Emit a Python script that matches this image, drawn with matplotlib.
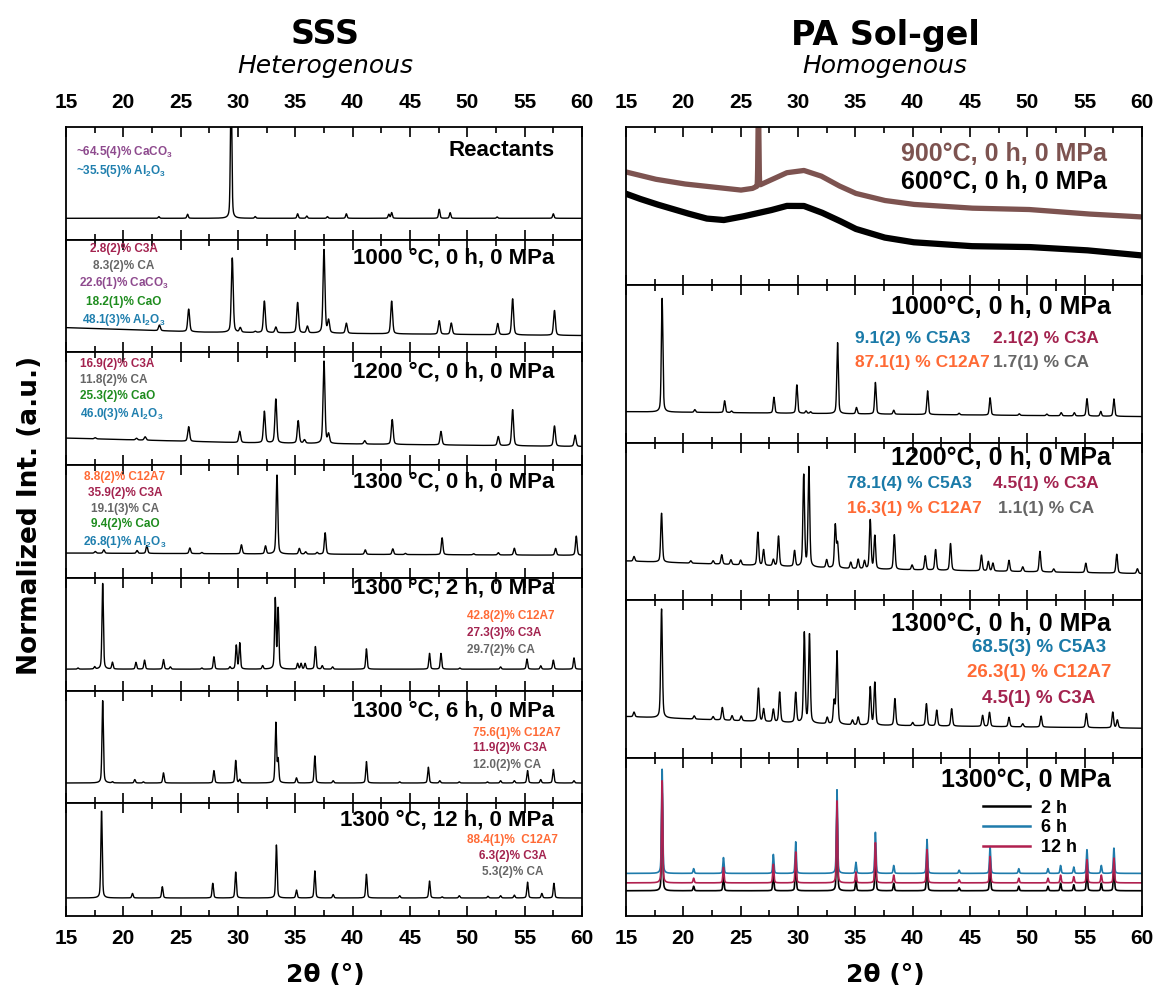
import numpy as np
import matplotlib.pyplot as plt
from matplotlib.ticker import MultipleLocator

plt.rcParams['font.family'] = ['Liberation Sans', 'DejaVu Sans']
plt.rcParams['font.weight'] = 'bold'
plt.rcParams['mathtext.fontset'] = 'custom'
plt.rcParams['mathtext.rm'] = 'Liberation Sans:bold'
plt.rcParams['mathtext.it'] = 'Liberation Sans:bold'
plt.rcParams['mathtext.bf'] = 'Liberation Sans:bold'

# phase colours
C_C3A = '#a3234f'
C_CA = '#666666'
C_CACO3 = '#8e4a8e'
C_CAO = '#1e8c1e'
C_AL2O3 = '#1f7fae'
C_C12A7 = '#ff6a35'
C_C5A3 = '#1a7aa8'
BROWN = '#7d5350'

tt = np.arange(15, 60.001, 0.01)  # 2theta grid

# ---------------- SSS (left column) ----------------
# baselines: (2theta, level); peaks: (2theta, height above baseline)
reac_base = [(15, 0.19), (60, 0.19)]
reac_peaks = [(23.1, 0.015), (25.6, 0.036), (29.4, 1.2), (31.5, 0.015), (35.2, 0.04),
              (36.0, 0.02), (37.8, 0.015), (39.45, 0.04), (43.15, 0.035), (43.4, 0.05),
              (47.55, 0.08), (48.5, 0.05), (52.6, 0.012), (57.5, 0.04)]

t1000_base = [(15, 0.22), (27, 0.18), (60, 0.15)]
t1000_peaks = [(23.15, 0.05), (25.7, 0.2), (29.5, 0.66), (30.2, 0.04), (31.5, 0.01),
               (32.3, 0.28), (33.3, 0.05), (35.2, 0.27), (36.05, 0.06), (37.5, 0.74),
               (37.9, 0.11), (39.45, 0.09), (43.4, 0.29), (47.55, 0.12), (48.6, 0.1),
               (52.65, 0.1), (53.95, 0.32), (57.6, 0.22)]

t1200_base = [(15, 0.24), (30, 0.2), (60, 0.165)]
t1200_peaks = [(17.55, 0.01), (21.15, 0.015), (21.9, 0.03), (25.7, 0.13), (30.15, 0.1),
               (32.3, 0.28), (33.3, 0.39), (35.25, 0.2), (35.8, 0.03), (37.5, 0.73),
               (37.9, 0.08), (41.05, 0.03), (43.45, 0.22), (47.7, 0.12), (52.7, 0.08),
               (53.95, 0.32), (57.6, 0.18), (59.4, 0.1)]

t1300_base = [(15, 0.22), (60, 0.2)]
t1300_peaks = [(17.55, 0.015), (18.3, 0.03), (21.2, 0.025), (22.05, 0.07), (25.8, 0.05),
               (26.85, 0.01), (30.3, 0.08), (32.4, 0.07), (33.4, 0.7), (35.35, 0.05),
               (35.9, 0.02), (36.9, 0.015), (37.6, 0.19), (41.1, 0.04), (43.5, 0.05),
               (44.6, 0.01), (47.8, 0.15), (50.55, 0.01), (52.7, 0.02), (54.1, 0.06),
               (57.7, 0.06), (59.5, 0.17)]

h2_base = [(15, 0.19), (60, 0.19)]
h2_peaks = [(16.05, 0.01), (17.5, 0.02), (18.2, 0.76), (19.05, 0.06), (21.1, 0.06),
            (21.85, 0.08), (23.5, 0.085), (24.1, 0.02), (26.85, 0.01), (27.9, 0.11),
            (29.3, 0.02), (29.85, 0.21), (30.15, 0.23), (32.15, 0.03), (33.25, 0.62),
            (33.5, 0.53), (35.2, 0.05), (35.5, 0.05), (35.85, 0.05), (36.75, 0.2),
            (37.35, 0.03), (38.25, 0.02), (41.2, 0.18), (46.7, 0.14), (47.7, 0.14),
            (49.35, 0.01), (52.9, 0.02), (55.2, 0.09), (56.4, 0.03), (57.5, 0.08),
            (59.3, 0.1)]

h6_base = [(15, 0.18), (60, 0.18)]
h6_peaks = [(18.2, 0.73), (19.05, 0.01), (21.0, 0.03), (21.75, 0.01), (23.5, 0.09),
            (27.9, 0.11), (29.8, 0.2), (30.15, 0.03), (33.3, 0.53), (33.5, 0.2),
            (35.1, 0.045), (36.7, 0.24), (38.3, 0.02), (41.2, 0.19), (44.1, 0.01),
            (46.6, 0.14), (47.6, 0.02), (49.3, 0.01), (51.75, 0.01), (52.9, 0.02),
            (54.1, 0.02), (55.25, 0.11), (56.4, 0.03), (57.5, 0.12), (59.3, 0.02)]

h12_base = [(15, 0.16), (60, 0.16)]
h12_peaks = [(18.1, 0.77), (20.8, 0.04), (23.4, 0.1), (27.8, 0.13), (29.8, 0.23),
             (33.35, 0.47), (35.1, 0.07), (36.7, 0.24), (38.3, 0.03), (41.2, 0.21),
             (44.1, 0.02), (46.7, 0.15), (47.8, 0.01), (49.3, 0.02), (51.8, 0.015),
             (52.9, 0.02), (54.1, 0.025), (55.25, 0.14), (56.5, 0.04), (57.55, 0.13)]

left_labels = ['Reactants', '1000 °C, 0 h, 0 MPa', '1200 °C, 0 h, 0 MPa',
               '1300 °C, 0 h, 0 MPa', '1300 °C, 2 h, 0 MPa', '1300 °C, 6 h, 0 MPa',
               '1300 °C, 12 h, 0 MPa']
left_label_y = [0.79, 0.84, 0.825, 0.85, 0.91, 0.82, 0.85]

left_notes = [
    [('~64.5(4)% CaCO$_3$', C_CACO3, 0.019, 0.78, 'left'),
     ('~35.5(5)% Al$_2$O$_3$', C_AL2O3, 0.019, 0.61, 'left')],
    [('2.8(2)% C3A', C_C3A, 0.112, 0.92, 'center'),
     ('8.3(2)% CA', C_CA, 0.112, 0.766, 'center'),
     ('22.6(1)% CaCO$_3$', C_CACO3, 0.112, 0.613, 'center'),
     ('18.2(1)% CaO', C_CAO, 0.112, 0.45, 'center'),
     ('48.1(3)% Al$_2$O$_3$', C_AL2O3, 0.112, 0.29, 'center')],
    [('16.9(2)% C3A', C_C3A, 0.027, 0.895, 'left'),
     ('11.8(2)% CA', C_CA, 0.027, 0.754, 'left'),
     ('25.3(2)% CaO', C_CAO, 0.027, 0.614, 'left'),
     ('46.0(3)% Al$_2$O$_3$', C_AL2O3, 0.027, 0.456, 'left')],
    [('8.8(2)% C12A7', C_C12A7, 0.114, 0.895, 'center'),
     ('35.9(2)% C3A', C_C3A, 0.114, 0.754, 'center'),
     ('19.1(3)% CA', C_CA, 0.114, 0.614, 'center'),
     ('9.4(2)% CaO', C_CAO, 0.114, 0.474, 'center'),
     ('26.8(1)% Al$_2$O$_3$', C_AL2O3, 0.114, 0.316, 'center')],
    [('42.8(2)% C12A7', C_C12A7, 0.778, 0.66, 'left'),
     ('27.3(3)% C3A', C_C3A, 0.778, 0.51, 'left'),
     ('29.7(2)% CA', C_CA, 0.778, 0.36, 'left')],
    [('75.6(1)% C12A7', C_C12A7, 0.789, 0.62, 'left'),
     ('11.9(2)% C3A', C_C3A, 0.789, 0.49, 'left'),
     ('12.0(2)% CA', C_CA, 0.789, 0.34, 'left')],
    [('88.4(1)%  C12A7', C_C12A7, 0.866, 0.67, 'center'),
     ('6.3(2)% C3A', C_C3A, 0.866, 0.53, 'center'),
     ('5.3(2)% CA', C_CA, 0.866, 0.39, 'center')],
]

# ---------------- PA Sol-gel (right column) ----------------
a900_base = [(15, 0.715), (17.5, 0.67), (20, 0.64), (22.5, 0.62), (25, 0.60), (26, 0.61),
             (27.5, 0.66), (29, 0.71), (30.5, 0.725), (32, 0.69), (33.5, 0.63), (35, 0.58),
             (37.5, 0.535), (40, 0.51), (45, 0.486), (50, 0.478), (55, 0.45), (60, 0.43)]
a900_peaks = [(26.55, 0.5)]
a600_base = [(15, 0.577), (16, 0.55), (17.5, 0.514), (20, 0.46), (22, 0.42), (23.5, 0.41),
             (25, 0.43), (27.5, 0.47), (29, 0.50), (30.5, 0.50), (32, 0.46), (33.5, 0.41),
             (35, 0.355), (37.5, 0.30), (40, 0.27), (45, 0.245), (50, 0.24), (55, 0.22),
             (60, 0.186)]

r1000_base = [(15, 0.196), (60, 0.165)]
r1000_peaks = [(18.15, 0.72), (21.0, 0.017), (23.6, 0.075), (24.2, 0.01), (27.9, 0.1),
               (29.9, 0.18), (30.7, 0.015), (31.1, 0.01), (33.45, 0.45), (35.1, 0.04),
               (36.75, 0.2), (38.35, 0.025), (41.3, 0.15), (44.05, 0.01), (46.75, 0.11),
               (49.3, 0.01), (51.7, 0.01), (52.95, 0.02), (54.1, 0.02), (55.2, 0.11),
               (56.4, 0.03), (57.55, 0.11)]

r1200_base = [(15, 0.25), (35, 0.2), (60, 0.17)]
r1200_peaks = [(15.7, 0.03), (18.1, 0.31), (20.65, 0.015), (22.6, 0.02), (23.35, 0.06),
               (24.15, 0.03), (25.0, 0.03), (26.5, 0.21), (27.0, 0.1), (27.85, 0.04),
               (28.3, 0.19), (29.7, 0.1), (30.5, 0.58), (30.95, 0.63), (32.5, 0.05),
               (33.25, 0.27), (33.45, 0.15), (34.6, 0.04), (35.25, 0.06), (35.8, 0.05),
               (36.3, 0.31), (36.7, 0.21), (38.4, 0.22), (39.95, 0.03), (41.1, 0.09),
               (42.0, 0.13), (43.3, 0.17), (46.0, 0.1), (46.6, 0.06), (47.0, 0.05),
               (48.4, 0.07), (49.6, 0.03), (51.1, 0.13), (52.3, 0.02), (55.1, 0.06),
               (57.8, 0.12), (59.6, 0.03)]

r1300_base = [(15, 0.264), (35, 0.21), (60, 0.19)]
r1300_peaks = [(15.7, 0.03), (18.1, 0.69), (20.95, 0.02), (22.6, 0.02), (23.4, 0.08),
               (24.25, 0.03), (25.05, 0.03), (26.55, 0.21), (27.0, 0.08), (27.85, 0.08),
               (28.4, 0.19), (29.8, 0.19), (30.55, 0.57), (31.0, 0.56), (32.55, 0.04),
               (33.15, 0.14), (33.4, 0.46), (34.75, 0.03), (35.25, 0.05), (36.3, 0.24),
               (36.7, 0.27), (38.45, 0.17), (40.0, 0.02), (41.2, 0.14), (42.1, 0.1),
               (43.4, 0.11), (46.1, 0.07), (46.7, 0.09), (48.4, 0.06), (49.6, 0.02),
               (51.2, 0.07), (55.15, 0.09), (57.45, 0.1), (57.85, 0.05)]

# 1300 °C, 0 MPa series (2 h, 6 h, 12 h)
t_peaks_pos = [18.15, 20.9, 23.5, 27.85, 29.8, 33.4, 35.05, 36.75, 38.35, 41.25,
               44.05, 46.75, 49.25, 51.8, 52.9, 54.05, 55.2, 56.45, 57.55]
t_peaks_h = [0.66, 0.03, 0.1, 0.12, 0.2, 0.53, 0.07, 0.26, 0.05, 0.215,
             0.02, 0.17, 0.03, 0.03, 0.05, 0.04, 0.15, 0.05, 0.16]
series_names = ['2 h', '6 h', '12 h']
series_base = [0.16, 0.27, 0.21]
series_scale = [0.95, 1.0, 0.98]
series_colors = ['black', '#1f7bab', '#b0204f']

right_labels = [None, '1000°C, 0 h, 0 MPa', '1200°C, 0 h, 0 MPa', '1300°C, 0 h, 0 MPa',
                '1300°C, 0 MPa']
right_label_y = [None, 0.86, 0.90, 0.85, 0.86]

right_notes = [
    [],
    [('9.1(2) % C5A3', C_C5A3, 0.444, 0.66, 'left', 12.5),
     ('2.1(2) % C3A', C_C3A, 0.711, 0.66, 'left', 12.5),
     ('87.1(1) % C12A7', C_C12A7, 0.444, 0.51, 'left', 12.5),
     ('1.7(1) % CA', C_CA, 0.711, 0.51, 'left', 12.5)],
    [('78.1(4) % C5A3', C_C5A3, 0.428, 0.74, 'left', 12.5),
     ('4.5(1) % C3A', C_C3A, 0.711, 0.74, 'left', 12.5),
     ('16.3(1) % C12A7', C_C12A7, 0.428, 0.58, 'left', 12.5),
     ('1.1(1) % CA', C_CA, 0.721, 0.58, 'left', 12.5)],
    [('68.5(3) % C5A3', C_C5A3, 0.80, 0.70, 'center', 13.5),
     ('26.3(1) % C12A7', C_C12A7, 0.80, 0.54, 'center', 13.5),
     ('4.5(1) % C3A', C_C3A, 0.80, 0.38, 'center', 13.5)],
    [],
]


def pattern(base, peaks, w=0.065, eta=0.3):
    bx, by = zip(*base)
    y = np.interp(tt, bx, by)
    for pos, h in peaks:
        d = (tt - pos) / w
        y = y + h * ((1 - eta) * np.exp(-0.5 * d ** 2) + eta / (1 + 0.5 * d ** 2))
    return y


def style(ax, first, last):
    ax.set_xlim(15, 60)
    ax.set_ylim(0, 1)
    ax.set_yticks([])
    ax.xaxis.set_major_locator(MultipleLocator(5))
    ax.xaxis.set_minor_locator(MultipleLocator(2.5))
    ax.tick_params(axis='x', which='both', direction='in', top=True, bottom=True,
                   labelbottom=last, labeltop=first, width=1.2, labelsize=15)
    ax.tick_params(axis='x', which='major', length=7)
    ax.tick_params(axis='x', which='minor', length=4)
    ax.tick_params(axis='x', which='major', pad=9)
    if first:
        ax.tick_params(axis='x', which='major', pad=11)
    for s in ax.spines.values():
        s.set_linewidth(1.3)


fig = plt.figure(figsize=(11.58, 9.93), dpi=100)
top_px, bot_px = 127, 916
H = 993.0
W = 1158.0

# left column
nL = 7
hL = (bot_px - top_px) / nL
left_data = [(reac_base, reac_peaks, 0.06), (t1000_base, t1000_peaks, 0.08),
             (t1200_base, t1200_peaks, 0.08), (t1300_base, t1300_peaks, 0.07),
             (h2_base, h2_peaks, 0.06), (h6_base, h6_peaks, 0.06), (h12_base, h12_peaks, 0.06)]
for i in range(nL):
    y0 = 1 - (top_px + (i + 1) * hL) / H
    ax = fig.add_axes([66 / W, y0, 516 / W, hL / H])
    b, p, w = left_data[i]
    ax.plot(tt, pattern(b, p, w), color='black', lw=1.0)
    style(ax, i == 0, i == nL - 1)
    ax.text(0.946, left_label_y[i], left_labels[i], transform=ax.transAxes, ha='right',
            va='center', fontsize=16, fontweight='bold')
    for txt, col, x, y, ha in left_notes[i]:
        ax.text(x, y, txt, transform=ax.transAxes, ha=ha, va='center', color=col,
                fontsize=8.5, fontweight='bold')

# right column
nR = 5
hR = (bot_px - top_px) / nR
axes_r = []
for i in range(nR):
    y0 = 1 - (top_px + (i + 1) * hR) / H
    ax = fig.add_axes([626 / W, y0, 516 / W, hR / H])
    axes_r.append(ax)
    style(ax, i == 0, i == nR - 1)

ax = axes_r[0]
ax.plot(tt, pattern(a600_base, []), color='black', lw=4.5, solid_joinstyle='round')
ax.plot(tt, pattern(a900_base, a900_peaks, 0.04, 0.0), color=BROWN, lw=3.8)
ax.text(0.932, 0.83, '900°C, 0 h, 0 MPa', transform=ax.transAxes, ha='right', va='center',
        fontsize=18, fontweight='bold', color=BROWN)
ax.text(0.932, 0.65, '600°C, 0 h, 0 MPa', transform=ax.transAxes, ha='right', va='center',
        fontsize=18, fontweight='bold', color='black')

right_data = [None, (r1000_base, r1000_peaks, 0.065), (r1200_base, r1200_peaks, 0.07),
              (r1300_base, r1300_peaks, 0.07)]
for i in range(1, 4):
    ax = axes_r[i]
    b, p, w = right_data[i]
    ax.plot(tt, pattern(b, p, w), color='black', lw=1.0)

ax = axes_r[4]
for name, base, sc, col in zip(series_names, series_base, series_scale, series_colors):
    pk = [(x, h * sc) for x, h in zip(t_peaks_pos, t_peaks_h)]
    ax.plot(tt, pattern([(15, base), (60, base)], pk, 0.05), color=col, lw=1.2, label=name)
leg = ax.legend(loc='upper right', bbox_to_anchor=(0.905, 0.84), frameon=False,
                handlelength=2.6, labelspacing=0.15, handletextpad=0.6,
                prop={'size': 13, 'weight': 'bold'})
for ln in leg.get_lines():
    ln.set_linewidth(1.8)

for i in range(1, 5):
    ax = axes_r[i]
    ax.text(0.94, right_label_y[i], right_labels[i], transform=ax.transAxes, ha='right',
            va='center', fontsize=18, fontweight='bold')
    for txt, col, x, y, ha, fs in right_notes[i]:
        ax.text(x, y, txt, transform=ax.transAxes, ha=ha, va='center', color=col,
                fontsize=fs, fontweight='bold')

# titles and axis labels
fig.text(325 / W, 1 - 35 / H, 'SSS', ha='center', va='center', fontsize=24,
         fontweight='bold', family='DejaVu Sans')
fig.text(325 / W, 1 - 66 / H, 'Heterogenous', ha='center', va='center', fontsize=18,
         fontweight='normal', style='italic', family='DejaVu Sans')
fig.text(885 / W, 1 - 35 / H, 'PA Sol-gel', ha='center', va='center', fontsize=24,
         fontweight='bold', family='DejaVu Sans')
fig.text(885 / W, 1 - 66 / H, 'Homogenous', ha='center', va='center', fontsize=18,
         fontweight='normal', style='italic', family='DejaVu Sans')
fig.text(325 / W, 1 - 975 / H, '2θ (°)', ha='center', va='center', fontsize=18,
         fontweight='bold', family='DejaVu Sans')
fig.text(885 / W, 1 - 975 / H, '2θ (°)', ha='center', va='center', fontsize=18,
         fontweight='bold', family='DejaVu Sans')
fig.text(30 / W, 1 - 515 / H, 'Normalized Int. (a.u.)', ha='center', va='center',
         rotation=90, fontsize=19, fontweight='bold', family='DejaVu Sans')

fig.savefig('out.png', dpi=100, facecolor='white')
